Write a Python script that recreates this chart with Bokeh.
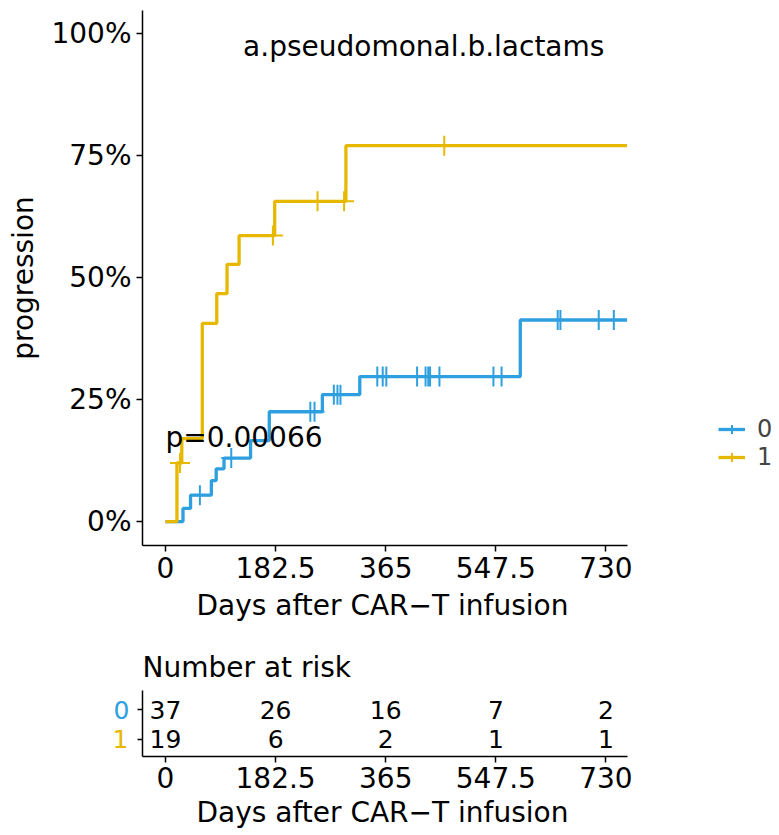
import numpy as np
from bokeh.plotting import figure
from bokeh.models import (ColumnDataSource, Range1d, FixedTicker, NumeralTickFormatter,
                          Legend, LegendItem, Label, LinearAxis, Title)
from bokeh.layouts import column
from bokeh.core.properties import value
from bokeh.embed import file_html
from bokeh.resources import INLINE

FONT = "DejaVu Sans"
BLUE = "#2E9FDF"
GOLD = "#E7B800"

# strata
groups = ["0", "1"]

# cumulative incidence of progression: value reached at each event time (days)
times_0 = [0, 29, 41.5, 76, 84, 97, 141, 172, 260, 322, 588]
prog_0 = [0.0, 0.027, 0.054, 0.084, 0.108, 0.130, 0.166, 0.225, 0.260, 0.297, 0.413]
censor_0 = [57, 109, 240, 247, 279, 285, 290, 351, 360, 366, 417, 431, 435.5,
            438.5, 454, 543.5, 557, 650, 654.5, 718, 743]

times_1 = [0, 19, 27, 61, 85, 102, 122, 181, 299]
prog_1 = [0.0, 0.120, 0.170, 0.406, 0.467, 0.527, 0.586, 0.656, 0.770]
censor_1 = [24, 178, 252, 296, 462]

follow_up_end = 765

x_ticks = [0, 182.5, 365, 547.5, 730]
x_tick_labels = ["0", "182.5", "365", "547.5", "730"]
y_ticks = [0, 0.25, 0.5, 0.75, 1.0]

# number at risk at each x tick
at_risk_0 = [37, 26, 16, 7, 2]
at_risk_1 = [19, 6, 2, 1, 1]

p_value_text = "p=0.00066"
strata_title = "a.pseudomonal.b.lactams"
x_title = "Days after CAR\u2212T infusion"

# time axis: drawn extent, and plotting area stretched to the right for the legend
AXIS_START, AXIS_END = -38.1, 765.7
x_range = Range1d(AXIS_START, 1017.6)


def level_at(times, values, t):
    idx = np.searchsorted(np.asarray(times), t, side="right") - 1
    return np.asarray(values)[idx]


def style_axis(ax, size="28px"):
    ax.axis_line_color = "black"
    ax.axis_line_width = 1.5
    ax.major_tick_line_color = "black"
    ax.major_tick_line_width = 1.5
    ax.major_tick_out = 6
    ax.major_tick_in = 0
    ax.minor_tick_line_color = None
    ax.major_label_text_font = FONT
    ax.major_label_text_font_size = size
    ax.major_label_text_color = "black"
    ax.axis_label_text_font = FONT
    ax.axis_label_text_font_size = "28px"
    ax.axis_label_text_font_style = "normal"
    ax.axis_label_text_color = "black"


def style_fig(fig):
    fig.xgrid.visible = False
    fig.ygrid.visible = False
    fig.outline_line_color = None
    fig.background_fill_color = "white"
    fig.border_fill_color = "white"
    for ax in fig.axis:
        style_axis(ax)


def time_axis(fig, label_standoff, title_standoff):
    ax = fig.xaxis[0]
    ax.ticker = FixedTicker(ticks=x_ticks)
    ax.major_label_overrides = {tk: s for tk, s in zip(x_ticks, x_tick_labels)}
    ax.bounds = (AXIS_START, AXIS_END)
    ax.major_label_standoff = label_standoff
    # axis title centred under the drawn part of the axis
    fig.add_layout(Title(text=x_title, align="left", offset=54,
                         vertical_align="top", standoff=title_standoff,
                         text_font=FONT, text_font_size="28px",
                         text_font_style="normal", text_color="black"), "below")


# ---- cumulative incidence panel ----
p = figure(width=779, height=635, x_range=x_range, y_range=Range1d(-0.049, 1.047),
           output_backend="svg", toolbar_location=None,
           min_border_left=142, min_border_right=0, min_border_top=10,
           min_border_bottom=90)
style_fig(p)
time_axis(p, 5, 16)
p.yaxis.ticker = FixedTicker(ticks=y_ticks)
p.yaxis.formatter = NumeralTickFormatter(format="0%")
p.yaxis.axis_label = "progression"
p.yaxis.major_label_standoff = 5
p.yaxis.axis_label_standoff = 8

series = [
    (times_0, prog_0, censor_0, BLUE),
    (times_1, prog_1, censor_1, GOLD),
]
legend_y = [102, 74]
for name, (times, prog, cens, color), ly in zip(groups, series, legend_y):
    xs = list(times) + [follow_up_end]
    ys = list(prog) + [prog[-1]]
    line = p.step(x=xs, y=ys, mode="after", line_color=color, line_width=3.3)
    cy = [float(level_at(times, prog, c)) for c in cens]
    marks = p.scatter(x=cens, y=cy, marker="cross", size=20, line_color=color,
                      line_width=2)
    p.add_layout(Legend(items=[LegendItem(label=name, renderers=[line, marks])],
                        location=(576, ly), glyph_width=27, glyph_height=22,
                        label_height=22, padding=0, margin=0, label_standoff=12,
                        label_text_font=FONT, label_text_font_size="24px",
                        border_line_color=None, background_fill_alpha=0))

p.add_layout(Label(x=428, y=0.973, text=strata_title, text_align="center",
                   text_baseline="alphabetic", text_font=FONT,
                   text_font_size="28px", text_color="black"))
p.add_layout(Label(x=0, y=0.172, text=p_value_text, text_align="left",
                   text_baseline="alphabetic", text_font=FONT,
                   text_font_size="28px", text_color="black"))

# ---- number at risk table ----
t = figure(width=779, height=200, x_range=x_range, y_range=Range1d(0.42, 2.64),
           output_backend="svg", toolbar_location=None,
           min_border_left=142, min_border_right=0, min_border_top=55,
           min_border_bottom=78, title="Number at risk")
t.title.text_font = FONT
t.title.text_font_size = "28px"
t.title.text_font_style = "normal"
t.title.text_color = "black"
t.title.align = "left"
t.title.standoff = 13
t.title.offset = 0
style_fig(t)
time_axis(t, 4, 10)

row_of = {"0": 2, "1": 1}

# inner left axis: both row ticks, label for group "0"
t.yaxis.ticker = FixedTicker(ticks=[1, 2])
t.yaxis.major_label_overrides = {row_of["1"]: "", row_of["0"]: "0"}
t.yaxis.major_tick_out = 5
t.yaxis.major_label_standoff = 8
t.yaxis.major_label_text_font_size = "25px"
t.yaxis.major_label_text_color = BLUE

# outer left axis carrying the label for group "1"
ax1 = LinearAxis(ticker=FixedTicker(ticks=[row_of["1"]]),
                 major_label_overrides={row_of["1"]: "1"})
style_axis(ax1, size="25px")
ax1.axis_line_color = None
ax1.major_tick_line_color = None
ax1.major_tick_out = 0
ax1.major_label_text_color = GOLD
ax1.major_label_standoff = -18
t.add_layout(ax1, "left")

risk_src = ColumnDataSource(dict(
    x=x_ticks + x_ticks,
    y=[row_of["0"]] * len(x_ticks) + [row_of["1"]] * len(x_ticks),
    text=[str(v) for v in at_risk_0] + [str(v) for v in at_risk_1],
))
t.text(x="x", y="y", text="text", source=risk_src, text_font=value(FONT),
       text_font_size=value("25px"), text_align="center", text_baseline="middle",
       text_color="black")

layout = column(p, t, spacing=0)
open("out.html", "w").write(file_html(layout, INLINE))
